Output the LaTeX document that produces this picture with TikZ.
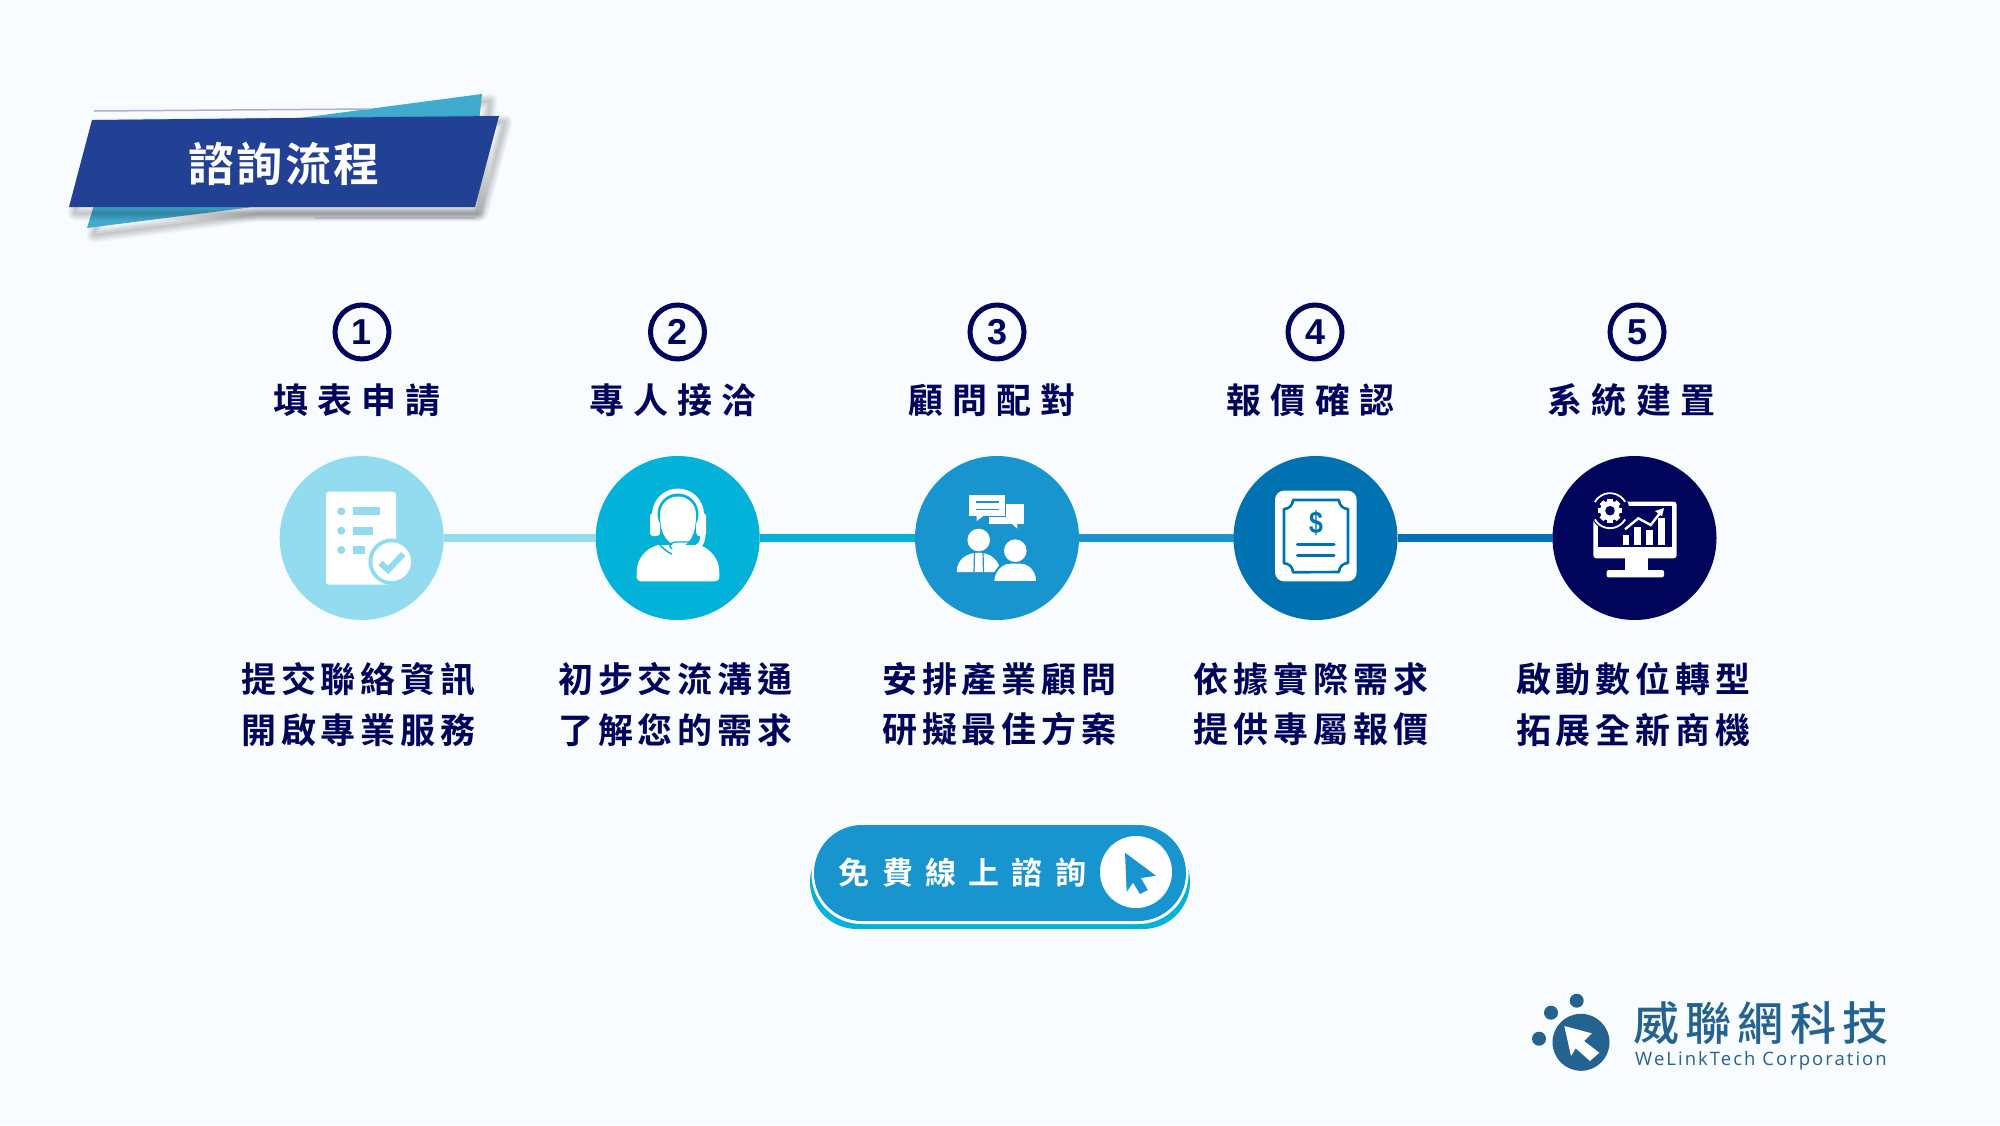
\documentclass[tikz,border=0pt]{standalone}
\usepackage{fontspec}
\setmainfont{Noto Sans CJK TC}[BoldFont=* Bold]
\newfontfamily\cjkm{Noto Sans CJK TC Medium}
\newfontfamily\latinb{Liberation Sans}[BoldFont=* Bold]
\newfontfamily\latinr{Open Sans}
\definecolor{bgc}{HTML}{F8FCFE}
\definecolor{navy}{HTML}{00045B}
\definecolor{stepa}{HTML}{93DCF0}
\definecolor{stepb}{HTML}{02B2D8}
\definecolor{stepc}{HTML}{1895CE}
\definecolor{stepd}{HTML}{0072B1}
\definecolor{bannerdark}{HTML}{224094}
\definecolor{bannerlight}{HTML}{41ABCF}
\definecolor{rulec}{HTML}{A8B3CF}
\definecolor{logoc}{HTML}{24628F}
\newcommand{\softshadow}[1]{%
 \foreach \ww in {15,13,11,9,7,5,3,1} \draw[black,opacity=.028,line width=\ww pt,line join=round] #1;}
\tikzset{
 x=1pt,y=-1pt,
 stepcircle/.style={circle,minimum size=164pt,inner sep=0pt,outer sep=0pt},
 numring/.style={circle,draw=navy,line width=5pt,minimum size=54pt,inner sep=0pt,font=\latinb\bfseries\fontsize{36}{36}\selectfont,text=navy},
 headlabel/.style={text=navy,inner sep=0pt,font=\bfseries\fontsize{35}{35}\selectfont\addfontfeature{LetterSpace=26}},
 desclabel/.style={text=navy,inner sep=0pt,align=center,font=\bfseries\fontsize{35}{50.5}\selectfont\addfontfeature{LetterSpace=14}},
 conn/.style={line width=7.5pt},
}
\begin{document}
\begin{tikzpicture}
\useasboundingbox (0,0) rectangle (2000,1125);
\fill[bgc] (0,0) rectangle (2000,1125);
% banner
\softshadow{(94,235) -- (127,127) -- (307,125) -- (490,101) -- (477,214) -- (260,214) -- cycle}
\fill[bannerlight] (87,228) -- (120,120) -- (300,118) -- (482,94) -- (470,207) -- (253,207) -- cycle;
\softshadow{(98,126) -- (505,122) -- (481,213) -- (75,213) -- cycle}
\fill[bannerdark] (92,120) -- (499,116) -- (475,207) -- (69,207) -- cycle;
\draw[rulec,line width=1.5pt] (94,111) -- (370,109);
\draw[rulec,line width=1.5pt] (315,218) -- (475,218);
\node[text=white,inner sep=0pt,font=\bfseries\fontsize{46}{46}\selectfont\addfontfeature{LetterSpace=5}] (title) at (284,164) {諮詢流程};
% steps
\node[stepcircle,fill=stepa] (s1) at (361.7,538) {};
\node[stepcircle,fill=stepb] (s2) at (677.7,538) {};
\node[stepcircle,fill=stepc] (s3) at (997,538) {};
\node[stepcircle,fill=stepd] (s4) at (1315.5,538) {};
\node[stepcircle,fill=navy] (s5) at (1634.5,538) {};
\draw[conn,stepa] (s1) -- (s2);
\draw[conn,stepb] (s2) -- (s3);
\draw[conn,stepc] (s3) -- (s4);
\draw[conn,stepd] (s4) -- (s5);
% numbers
\node[numring] (n1) at (362,332) {1};
\node[numring] (n2) at (677.5,332) {2};
\node[numring] (n3) at (997,332) {3};
\node[numring] (n4) at (1315,332) {4};
\node[numring] (n5) at (1637,332) {5};
% headings
\node[headlabel] (h1) at (357,400.5) {填表申請};
\node[headlabel] (h2) at (673,400.5) {專人接洽};
\node[headlabel] (h3) at (992,400.5) {顧問配對};
\node[headlabel] (h4) at (1310.5,400.5) {報價確認};
\node[headlabel] (h5) at (1631.5,400.5) {系統建置};
% descriptions
\node[desclabel] (d1) at (358.4,704.3) {提交聯絡資訊\\[0pt]開啟專業服務};
\node[desclabel] (d2) at (675.4,704.3) {初步交流溝通\\[0pt]了解您的需求};
\node[desclabel] (d3) at (999.4,704.3) {安排產業顧問\\[0pt]研擬最佳方案};
\node[desclabel] (d4) at (1311,704.3) {依據實際需求\\[0pt]提供專屬報價};
\node[desclabel] (d5) at (1633.3,704.3) {啟動數位轉型\\[0pt]拓展全新商機};
% icon 1: form
\fill[white,rounded corners=3pt] (326,491.7) rectangle (396,584.7);
\foreach \yy in {511.3,530.7,550} \fill[stepa] (341.3,\yy) circle (4pt);
\fill[stepa] (353.3,507.3) rectangle (380,515.3);
\fill[stepa] (353.3,526.7) rectangle (372.7,534.7);
\fill[stepa] (353.3,546) rectangle (365,554);
\fill[stepa] (391.7,561.7) circle (23.3pt);
\fill[white] (391.7,561.7) circle (19.3pt);
\draw[stepa,line width=6pt] (380.5,563) -- (388,570) -- (403.3,554);
% icon 2: headset person
\fill[white,rounded corners=4pt] (636.7,581.3) -- (636.7,574) .. controls (637,560) and (645,549) .. (660,544.5) -- (697,544.5) .. controls (711,549) and (719,560) .. (719.3,574) -- (719.3,581.3) -- cycle;
\fill[white] (678,514.5) circle (26pt);
\fill[stepb] (659,513) rectangle (697,545);
\fill[white,rounded corners=3pt] (650,513) rectangle (660,536);
\fill[white,rounded corners=3pt] (696,513) rectangle (706,536);
\fill[stepb] (678,514) circle (20.5pt);
\fill[white] (678,514.5) circle (18pt);
\fill[white] (660,514) .. controls (660,530) and (663,540) .. (678,548) .. controls (690,545) and (696,535) .. (696,514) -- cycle;
\draw[stepb,line width=1.5pt] (660,545) .. controls (664,549) and (667,552) .. (672,554);
\draw[white,line width=5pt,line cap=round] (677,549) -- (690,549) .. controls (699,549) and (703,543) .. (703,534);
\fill[white] (672,553) -- (700,553) -- (692,557) -- (676,557) -- cycle;
\draw[stepb,line width=1.4pt] (696,533) .. controls (696,540) and (692,542) .. (688,542) -- (675,542) .. controls (670,543) and (668,546) .. (672,549);
% icon 3: consultants
\fill[white] (988.7,504.3) rectangle (1024,523.7);
\fill[white] (1011.7,523.7) -- (1017.3,528.7) -- (1017.3,523.7) -- cycle;
\draw[stepc,line width=1.6pt] (970,496) rectangle (1005.3,516);
\fill[white] (969.2,495.2) rectangle (1005.3,516);
\fill[white] (976.7,516) -- (976.7,521) -- (983.3,516) -- cycle;
\draw[stepc,line width=1.6pt] (976,502) -- (999.3,502) (976,509.3) -- (999.3,509.3);
\fill[white] (978.7,540) circle (11.3pt);
\fill[white] (956.7,572) .. controls (956.7,560) and (966,552.7) .. (978.7,552.7) .. controls (990,552.7) and (1000,560) .. (1000,572) -- cycle;
\draw[stepc,line width=1.2pt] (974.5,552) -- (974,572) (983,552) -- (983.5,572);
\draw[stepc,line width=2pt,fill=white] (993.3,582) .. controls (993.3,571) and (1001,562.7) .. (1010,562.7) -- (1020.7,562.7) .. controls (1030,562.7) and (1037.3,571) .. (1037.3,582) -- cycle;
\fill[stepc] (990,582) rectangle (1040,590);
\fill[white] (1015.3,550.7) circle (11.3pt);
% icon 4: certificate
\fill[white,rounded corners=9pt] (1275,490.7) rectangle (1356.7,581.3);
\draw[stepd,line width=2.6pt,line join=round] (1293,500) -- (1339,500) arc[start angle=180,end angle=270,radius=9pt] -- (1348,563) arc[start angle=90,end angle=180,radius=9pt] -- (1293,572.3) arc[start angle=0,end angle=90,radius=9pt] -- (1284,509) arc[start angle=270,end angle=360,radius=9pt] -- cycle;
\node[text=stepd,inner sep=0pt,font=\latinb\bfseries\fontsize{31}{31}\selectfont] (dollar) at (1316,523) {\scalebox{0.8}[1]{\$}};
\draw[stepd,line width=3.2pt,line cap=round] (1297.5,544.3) -- (1334,544.3) (1297.5,555.3) -- (1334,555.3);
% icon 5: monitor
\fill[white,rounded corners=3pt] (1593.3,501.7) rectangle (1676.7,558.3);
\fill[navy] (1598.3,505.7) rectangle (1671.7,547.3);
\fill[white] (1625,558) -- (1648.3,558) -- (1648.3,570) -- (1625,570) -- cycle;
\fill[white,rounded corners=2pt] (1606.7,570) rectangle (1664,577.3);
\fill[white] (1622.7,535) rectangle (1629,545);
\fill[white] (1634,527.3) rectangle (1640.7,545);
\fill[white] (1646,530) rectangle (1652.7,545);
\fill[white] (1658.3,518.3) rectangle (1665.3,545);
\draw[white,line width=2.4pt] (1625,529.3) -- (1638.3,518.3) -- (1650.7,525) -- (1660,513);
\fill[white] (1664,508) -- (1655,511) -- (1662,516.5) -- cycle;
\fill[navy] (1610,510.7) circle (19.5pt);
\draw[white,line width=1.8pt] (1610,510.7) ++(30:17.5pt) arc[start angle=30,end angle=150,radius=17.5pt];
\draw[white,line width=1.8pt] (1610,510.7) ++(210:17.5pt) arc[start angle=210,end angle=330,radius=17.5pt];
\foreach \aa in {0,45,...,315} \fill[white,shift={(1610,510.7)},rotate=\aa] (-2.6,-12) rectangle (2.6,12);
\fill[white] (1610,510.7) circle (10pt);
\fill[navy] (1610,510.7) circle (4.8pt);
% button
\fill[stepb,rounded corners=47pt] (810,835) rectangle (1190,929);
\fill[white,rounded corners=50pt] (811.5,822.5) rectangle (1188.5,924);
\fill[stepc,rounded corners=48pt] (814,825) rectangle (1186,921);
\fill[white] (1136,872) circle (36pt);
\fill[stepc] (1125,852.7) -- (1156,875.7) -- (1141,878) -- (1147.7,890) -- (1140,894) -- (1133,882.7) -- (1126.7,891.7) -- cycle;
\node[text=white,inner sep=0pt,font=\bfseries\fontsize{31}{31}\selectfont\addfontfeature{LetterSpace=39.7}] (cta) at (962.5,873) {免費線上諮詢};
% logo
\fill[logoc] (1576.7,1000.7) circle (7pt);
\fill[logoc] (1551,1012.7) circle (7pt);
\fill[logoc] (1539,1038.7) circle (7pt);
\fill[logoc] (1581,1042.3) circle (28.5pt);
\fill[white] (1564.3,1026) -- (1591.7,1033.3) -- (1584,1041) -- (1599.3,1052.7) -- (1590,1061) -- (1575.7,1048.3) -- (1571,1056) -- cycle;
\node[text=logoc,inner sep=0pt,font=\cjkm\fontsize{46}{46}\selectfont\addfontfeature{LetterSpace=14}] (logocn) at (1761,1023) {威聯網科技};
\node[text=logoc,inner sep=0pt,font=\latinr\fontsize{18.5}{18.5}\selectfont\addfontfeature{LetterSpace=11}] (logoen) at (1761,1061) {WeLinkTech Corporation};
\end{tikzpicture}
\end{document}
